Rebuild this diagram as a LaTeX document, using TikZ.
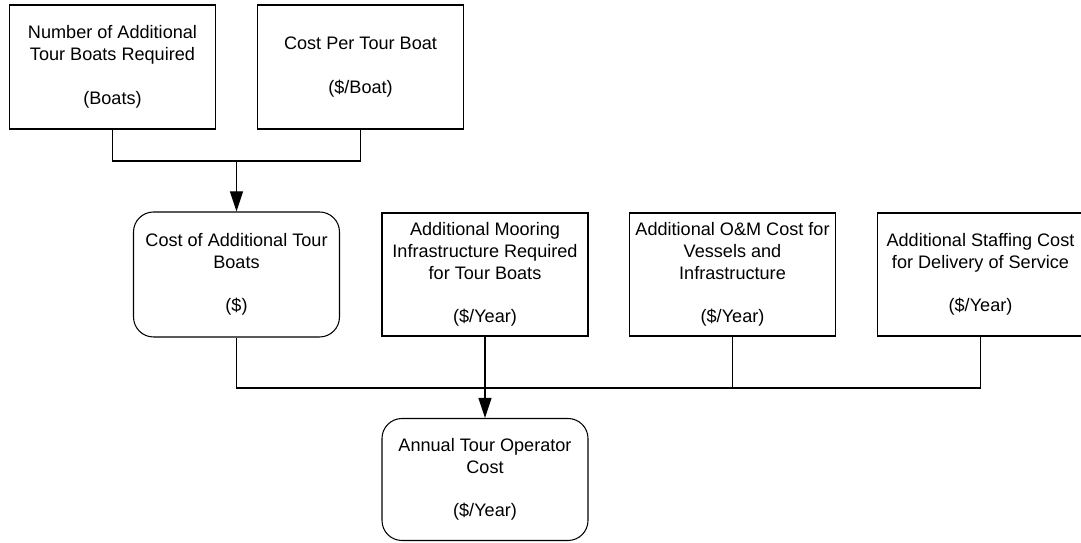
\documentclass[tikz,border=0pt]{standalone}
\usepackage{fontspec}
\setmainfont{Liberation Sans}
\usetikzlibrary{arrows.meta}

\begin{document}
\begin{tikzpicture}[
  box/.style={rectangle,draw,line width=0.6pt,minimum width=4.12cm,minimum height=2.48cm,inner sep=0pt,align=center,font=\fontsize{10.3}{12.4}\selectfont},
  rbox/.style={box,rounded corners=0.4cm},
  line/.style={line width=0.6pt},
  arrow/.style={line,-{Triangle[width=2.6mm,length=4mm]}}
]
\useasboundingbox (0,0) rectangle (21.62,10.86);

% ===== INPUTS (Top) =====
\node[box] (boats) at (2.25,9.52) {Number of Additional\\Tour Boats Required\\[12.4pt](Boats)};
\node[box] (per_boat) at (7.21,9.52) {Cost Per Tour Boat\\[12.4pt](\$/Boat)};

% Capital cost
\node[rbox,minimum height=2.5cm] (cost_boats) at (4.73,5.37) {Cost of Additional Tour\\Boats\\[12.4pt](\$)};

\coordinate (join_top) at (4.73,7.64);
\draw[line] (boats.south) |- (join_top) -| (per_boat.south);
\draw[arrow] (join_top) -- (cost_boats.north);

% ===== ANNUAL COSTS (Middle) =====
\node[box,minimum height=2.46cm] (mooring) at (9.70,5.37) {Additional Mooring\\Infrastructure Required\\for Tour Boats\\[12.4pt](\$/Year)};
\node[box,minimum height=2.46cm] (om) at (14.65,5.37) {Additional O\&M Cost for\\Vessels and\\Infrastructure\\[12.4pt](\$/Year)};
\node[box,minimum height=2.46cm] (staffing) at (19.61,5.37) {Additional Staffing Cost\\for Delivery of Service\\[12.4pt](\$/Year)};

% Output
\node[rbox,minimum height=2.44cm] (annual) at (9.70,1.27) {Annual Tour Operator\\Cost\\[12.4pt](\$/Year)};

\coordinate (join_bot) at (9.70,3.10);
\draw[line] (cost_boats.south) |- (join_bot);
\draw[line] (staffing.south) |- (join_bot);
\draw[line] (om.south) -- (om.south |- join_bot);
\draw[arrow] (mooring.south) -- (annual.north);

\end{tikzpicture}
\end{document}
